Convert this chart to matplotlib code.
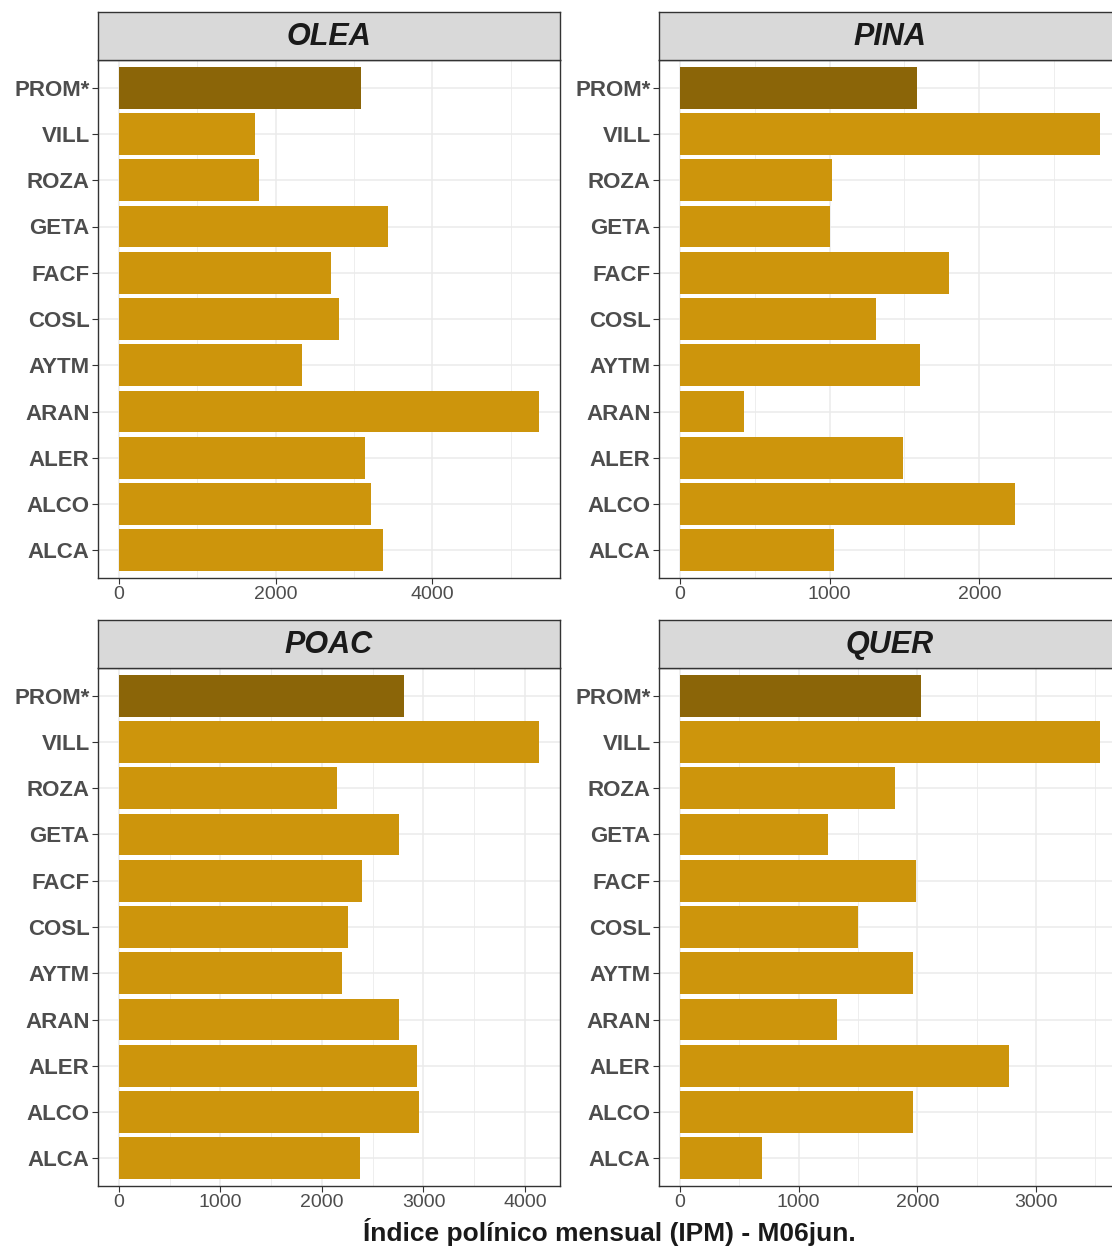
import numpy as np
import matplotlib
matplotlib.use('Agg')
import matplotlib.pyplot as plt
from matplotlib.ticker import MultipleLocator

plt.rcParams['font.family'] = ['Liberation Sans', 'DejaVu Sans']

# Stations, bottom to top as ggplot orders them
stations = ['ALCA', 'ALCO', 'ALER', 'ARAN', 'AYTM', 'COSL', 'FACF', 'GETA', 'ROZA', 'VILL', 'PROM*']

# Monthly pollen index per taxon (same station order)
olea = [3376, 3223, 3146, 5363, 2331, 2803, 2701, 3439, 1783, 1732, 3095]
pina = [1027, 2240, 1493, 427, 1607, 1313, 1800, 1000, 1013, 2807, 1587]
poac = [2378, 2958, 2939, 2762, 2201, 2260, 2398, 2762, 2143, 4138, 2811]
quer = [689, 1966, 2773, 1319, 1966, 1496, 1992, 1244, 1815, 3538, 2034]

taxa = ['OLEA', 'PINA', 'POAC', 'QUER']
values = [olea, pina, poac, quer]
major_steps = [2000, 1000, 1000, 1000]

bar_col = '#CD950C'
prom_col = '#8B6508'
grid_col = '#EBEBEB'
border_col = '#333333'
label_col = '#4D4D4D'

W, H = 1112, 1247
fig = plt.figure(figsize=(W / 100, H / 100), dpi=100)

# panel boxes in pixels: (left, right) and (strip_top, panel_top, panel_bottom)
cols = [(98, 560), (659, 1121)]
rows = [(12, 60, 578), (620, 668, 1186)]


def fx(px):
    return px / W


def fy(py):
    return 1 - py / H


for i, (taxon, vals, step) in enumerate(zip(taxa, values, major_steps)):
    left, right = cols[i % 2]
    s_top, p_top, p_bot = rows[i // 2]

    ax = fig.add_axes([fx(left), fy(p_bot), fx(right - left), (p_bot - p_top) / H])
    y = np.arange(len(stations))
    colors = [prom_col if s == 'PROM*' else bar_col for s in stations]
    ax.barh(y, vals, height=0.9, color=colors, zorder=3)

    vmax = max(vals)
    ax.set_xlim(-0.05 * vmax, 1.05 * vmax)
    ax.set_ylim(-0.6, len(stations) - 0.4)
    ax.xaxis.set_major_locator(MultipleLocator(step))
    ax.xaxis.set_minor_locator(MultipleLocator(step / 2))
    ax.set_yticks(y)
    ax.set_yticklabels(stations)

    ax.grid(True, which='major', color=grid_col, lw=1.1, zorder=0)
    ax.grid(True, which='minor', axis='x', color=grid_col, lw=0.6, zorder=0)
    ax.set_axisbelow(True)

    for sp in ax.spines.values():
        sp.set_color(border_col)
        sp.set_linewidth(1.0)

    ax.tick_params(axis='y', length=4, width=0.8, color=border_col, pad=2,
                   labelsize=16, labelcolor=label_col)
    ax.tick_params(axis='x', which='major', length=4, width=0.8, color=border_col,
                   pad=2, labelsize=14, labelcolor=label_col)
    ax.tick_params(axis='x', which='minor', length=0)
    for lab in ax.get_yticklabels():
        lab.set_fontweight('bold')

    # facet strip
    sax = fig.add_axes([fx(left), fy(p_top), fx(right - left), (p_top - s_top) / H])
    sax.set_facecolor('#D9D9D9')
    sax.set_xticks([])
    sax.set_yticks([])
    for sp in sax.spines.values():
        sp.set_color(border_col)
        sp.set_linewidth(1.0)
    sax.text(0.5, 0.47, taxon, transform=sax.transAxes, ha='center', va='center',
             fontsize=22, fontweight='bold', fontstyle='italic', color='#1A1A1A')

fig.text(fx((98 + 1121) / 2), fy(1232), 'Índice polínico mensual (IPM) - M06jun.',
         ha='center', va='center', fontsize=19, fontweight='bold', color='#1A1A1A')

fig.savefig('out.png', dpi=100)
